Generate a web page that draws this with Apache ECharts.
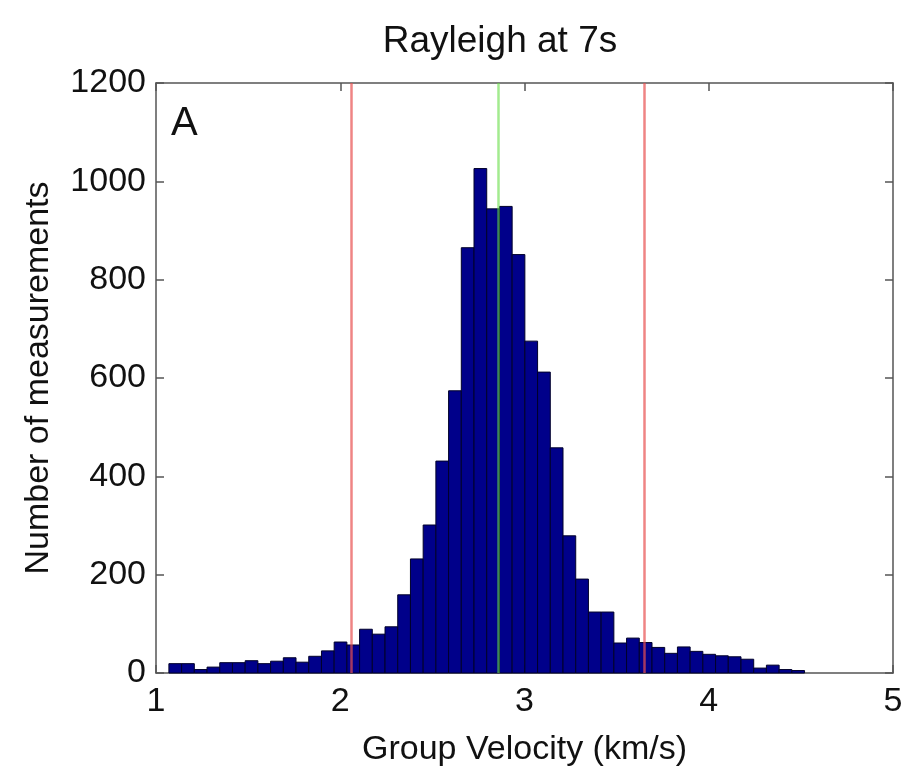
<!DOCTYPE html>
<html>
<head>
<meta charset="utf-8">
<script src="https://cdn.jsdelivr.net/npm/echarts@6/dist/echarts.min.js"></script>
<style>html,body{margin:0;padding:0;background:#fff;}#c{width:911px;height:772px;}</style>
</head>
<body>
<div id="c"></div>
<script>
// Histogram bins: first bin start and bin width (km/s)
const binStart = 1.07;
const binWidth = 0.069;
// Counts per bin
const counts = [19, 19, 7, 12, 21, 21, 25, 19, 24, 31,
                22, 34, 45, 63, 57, 89, 79, 94, 159, 232,
                301, 431, 574, 865, 1026, 944, 949, 851, 675, 612,
                458, 279, 191, 124, 124, 61, 71, 62, 52, 40,
                53, 44, 38, 35, 33, 28, 10, 16, 7, 5];
// Vertical reference lines (km/s)
const redLines = [2.064, 3.654];
const greenLines = [2.858];
const xTicks = [1, 2, 3, 4, 5];
const yTicks = [0, 200, 400, 600, 800, 1000, 1200];

const histData = counts.map((c, i) => [binStart + i * binWidth, binStart + (i + 1) * binWidth, c]);

const font = '"Liberation Sans", Arial, Helvetica, sans-serif';
const chart = echarts.init(document.getElementById('c'), null, {renderer: 'canvas'});

const axisLine = {show: true, onZero: false, lineStyle: {color: '#555', width: 1.5}};
const tickStyle = {show: true, inside: true, length: 8, lineStyle: {color: '#555', width: 1.5}};

chart.setOption({
  animation: false,
  backgroundColor: '#fff',
  grid: {left: 156, right: 18, top: 83, bottom: 90},
  graphic: [
    {type: 'text', x: 500, y: 42, style: {text: 'Rayleigh at 7s', font: '37px ' + font, fill: '#111', textAlign: 'center', textVerticalAlign: 'middle'}},
    {type: 'text', x: 171, y: 124, style: {text: 'A', font: '40px ' + font, fill: '#111', textAlign: 'left', textVerticalAlign: 'middle'}}
  ],
  xAxis: [
    {type: 'value', min: xTicks[0], max: xTicks[xTicks.length - 1], interval: 1, position: 'bottom',
     name: 'Group Velocity (km/s)', nameLocation: 'middle', nameGap: 60,
     nameTextStyle: {fontFamily: font, fontSize: 34, color: '#111'},
     axisLine: axisLine, axisTick: tickStyle,
     axisLabel: {fontFamily: font, fontSize: 34, color: '#111', margin: 12, formatter: v => String(v)},
     splitLine: {show: false}},
    {type: 'value', min: xTicks[0], max: xTicks[xTicks.length - 1], interval: 1, position: 'top',
     axisLine: axisLine, axisTick: tickStyle, axisLabel: {show: false}, splitLine: {show: false}}
  ],
  yAxis: [
    {type: 'value', min: yTicks[0], max: yTicks[yTicks.length - 1], interval: 200, position: 'left',
     name: 'Number of measurements', nameLocation: 'middle', nameGap: 100,
     nameTextStyle: {fontFamily: font, fontSize: 34, color: '#111'},
     axisLine: axisLine, axisTick: tickStyle,
     axisLabel: {fontFamily: font, fontSize: 34, color: '#111', margin: 10, formatter: v => String(v)},
     splitLine: {show: false}},
    {type: 'value', min: yTicks[0], max: yTicks[yTicks.length - 1], interval: 200, position: 'right',
     axisLine: axisLine, axisTick: tickStyle, axisLabel: {show: false}, splitLine: {show: false}}
  ],
  series: [
    {
      type: 'custom',
      xAxisIndex: 0, yAxisIndex: 0,
      encode: {x: [0, 1], y: 2},
      data: histData,
      renderItem: function (params, api) {
        const p0 = api.coord([api.value(0), api.value(2)]);
        const p1 = api.coord([api.value(1), 0]);
        return {
          type: 'rect',
          shape: {x: p0[0], y: p0[1], width: p1[0] - p0[0], height: p1[1] - p0[1]},
          style: {fill: '#00008a', stroke: '#00002a', lineWidth: 1}
        };
      },
      markLine: {
        silent: true,
        symbol: 'none',
        label: {show: false},
        z: 10,
        data: redLines.map(v => ({xAxis: v, lineStyle: {color: '#e85050', width: 2.5, opacity: 0.7, type: 'solid'}}))
          .concat(greenLines.map(v => ({xAxis: v, lineStyle: {color: '#66dd44', width: 2.5, opacity: 0.6, type: 'solid'}})))
      }
    }
  ]
});
</script>
</body>
</html>
